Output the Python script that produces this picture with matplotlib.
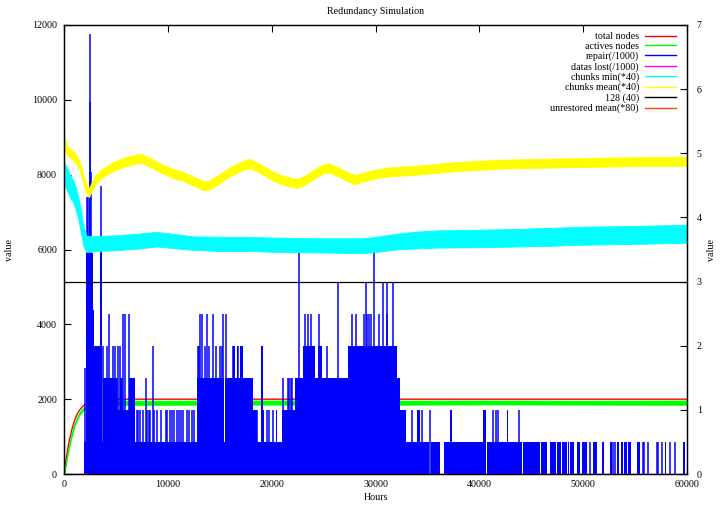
import matplotlib
matplotlib.use("Agg")
import matplotlib.pyplot as plt
from matplotlib.lines import Line2D

plt.rcParams['font.family'] = ['Liberation Serif', 'DejaVu Serif']
plt.rcParams['font.size'] = 7.2

# ---- data (hours on x, "value" on the left axis) ----
TOTAL_H = [0, 250, 500, 750, 1000, 1250, 1500, 1750, 2000, 3000, 4000, 60000]
TOTAL_V = [0, 480, 880, 1180, 1420, 1590, 1710, 1790, 1850, 1960, 2000, 2000]

ACTIVE_H = [0, 250, 500, 750, 1000, 1250, 1500, 1750, 2000, 4000, 10000,
            20000, 30000, 40000, 50000, 60000]
ACTIVE_LO = [0, 350, 720, 1020, 1270, 1450, 1580, 1670, 1740, 1850, 1850,
             1855, 1850, 1860, 1855, 1850]
ACTIVE_HI = [0, 420, 800, 1100, 1340, 1520, 1650, 1740, 1800, 1960, 1960,
             1965, 1960, 1965, 1960, 1965]

# repair(/1000): wide solid blocks (start, end, top)
REPAIR_BLOCKS = [
    (1930, 2150, 853), (2150, 2750, 5900), (2750, 2900, 4370),
    (2900, 3450, 3413), (3450, 3650, 5900), (3650, 4750, 2560),
    (4750, 6840, 1707), (4750, 5100, 2560), (5350, 5600, 2560),
    (6260, 6840, 2560), (6840, 12780, 853),
    (12780, 18240, 2560), (12780, 18560, 1707), (16250, 16470, 3413),
    (16630, 16790, 3413), (16950, 17210, 3413), (18980, 19140, 3413),
    (18560, 21450, 853), (19140, 19300, 1707), (20390, 20550, 1707),
    (21030, 21450, 1707), (21450, 22250, 1707), (22250, 32360, 2560),
    (23050, 24180, 3413), (24430, 24820, 3413), (27390, 32040, 3413),
    (32360, 32520, 1707), (32520, 32940, 1707), (33965, 34290, 1707),
    (37180, 37340, 1707), (40320, 40640, 1707), (42630, 42790, 1707),
    (32520, 49100, 853), (49380, 49700, 853), (49890, 50340, 853),
    (50980, 51360, 853), (51790, 52010, 853), (52590, 52750, 853),
    (53230, 53420, 853), (53620, 53810, 853), (53930, 54190, 853),
    (54350, 54580, 853), (55160, 55470, 853), (57880, 57980, 853),
    (59650, 59810, 853),
]
# white holes inside the solid blocks (start, end, low, high)
REPAIR_GAPS = [
    (3700, 3760, 853, 3413), (15420, 15480, 853, 2560),
    (35180, 35310, 0, 853), (36210, 36600, 0, 853), (37630, 37700, 0, 853),
    (40640, 40700, 0, 853), (44150, 44210, 0, 853), (45820, 45900, 0, 853),
    (46480, 46800, 0, 853), (47170, 47230, 0, 853), (47430, 47500, 0, 853),
    (47880, 47940, 0, 853), (48410, 48570, 0, 853), (48680, 48740, 0, 853),
]
# thin spikes (hour, top)
REPAIR_SPIKES = [
    (2020, 2820), (2250, 7410), (2350, 7410), (2470, 11760), (2520, 9950),
    (2580, 8080), (3550, 7700),
    (3790, 3413), (4110, 3413), (4300, 4267), (4750, 3413), (4910, 3413),
    (5070, 2560), (5230, 3413), (5390, 3413), (5550, 2560), (5710, 4267),
    (5870, 4267), (6260, 4267), (6450, 2560), (6680, 2560),
    (7000, 1707), (7160, 1707), (7320, 1707), (7580, 1707), (7900, 2560),
    (8030, 1707), (8190, 1707), (8280, 1707), (8540, 3413), (8670, 1707),
    (8930, 1707), (9300, 1707), (9820, 1707), (9950, 1707), (10210, 1707),
    (10370, 1707), (10620, 1707), (10910, 1707), (11110, 1707),
    (11300, 1707), (11490, 1707), (11880, 1707), (12070, 1707),
    (12360, 1707), (12550, 1707),
    (12870, 3413), (13030, 3413), (13100, 4267), (13260, 4267),
    (13580, 3413), (13740, 4267), (14000, 3413), (14320, 4267),
    (14640, 3413), (15020, 3413), (15180, 3413), (15340, 4267),
    (15600, 4267), (16310, 3413), (16800, 3413),
    (18590, 1707), (19550, 1707), (19790, 1707), (20110, 1707),
    (21060, 2560), (21610, 2560), (21700, 2560), (21860, 2560),
    (21960, 2560), (22630, 5950),
    (23210, 4267), (23500, 4267), (23790, 4267), (24590, 4267),
    (25300, 3413), (26420, 5120), (27710, 4267), (28120, 4267),
    (28890, 4267), (29090, 5120), (29150, 4267), (29350, 4267),
    (29540, 4267), (29860, 5970), (30340, 4267), (30760, 5120),
    (31080, 5120), (31110, 4267), (31660, 5120),
    (33480, 1707), (34510, 1707), (35250, 1707), (41350, 1707),
    (41570, 1707), (41830, 1707), (43850, 1707),
    (50660, 853), (52900, 853), (53040, 853), (55790, 853), (55860, 853),
    (56280, 853), (57080, 853), (57180, 853), (57560, 853), (58360, 853),
    (58850, 853),
]

DATALOST_H = [0, 60000]
DATALOST_V = [0, 0]

CHMIN_H = [0, 256, 600, 900, 1150, 1380, 1600, 1860, 2180, 3000, 5000, 7000,
           8920, 10500, 12450, 15000, 17600, 20000, 22420, 25000, 28830,
           30500, 32040, 34000, 35900, 40000, 43600, 47000, 50030, 55000,
           60000]
CHMIN_LO = [7750, 7600, 7380, 7250, 7050, 6800, 6500, 6100, 5930, 5960,
            5980, 6020, 6080, 6040, 5990, 5960, 5960, 5940, 5930, 5920, 5900,
            5950, 6000, 6030, 6050, 6060, 6080, 6100, 6130, 6150, 6180]
CHMIN_HI = [8350, 8200, 7980, 7850, 7650, 7400, 7100, 6620, 6360, 6360,
            6380, 6420, 6470, 6420, 6350, 6340, 6340, 6320, 6310, 6300, 6300,
            6360, 6420, 6480, 6510, 6530, 6550, 6580, 6610, 6630, 6660]

CHMEAN_H = [0, 300, 1000, 1500, 1800, 2100, 2400, 2700, 3000, 3500, 4000,
            5000, 6000, 7000, 7500, 8500, 9500, 10500, 11500, 12500, 13500,
            14000, 15000, 16000, 17000, 17900, 19000, 20000, 21000, 22400,
            23200, 24000, 25000, 25600, 26500, 27500, 28000, 29000, 30000,
            31500, 34000, 37500, 42000, 47000, 53000, 60000]
CHMEAN_LO = [8650, 8520, 8360, 8130, 7830, 7530, 7400, 7580, 7730, 7880,
             7980, 8130, 8230, 8300, 8310, 8180, 8030, 7910, 7830, 7700, 7580,
             7600, 7780, 7960, 8100, 8180, 8030, 7860, 7740, 7640, 7730, 7880,
             8040, 8060, 7940, 7800, 7750, 7830, 7900, 7960, 8000, 8090, 8160,
             8190, 8220, 8240]
CHMEAN_HI = [9050, 8760, 8600, 8370, 8070, 7770, 7640, 7820, 7970, 8120,
             8220, 8370, 8470, 8540, 8550, 8420, 8270, 8150, 8070, 7940, 7820,
             7840, 8020, 8200, 8340, 8420, 8270, 8100, 7980, 7880, 7970, 8120,
             8280, 8300, 8180, 8040, 7990, 8070, 8140, 8200, 8240, 8330, 8400,
             8430, 8460, 8480]

LINE128_H = [0, 60000]
LINE128_V = [5120, 5120]

UNREST_H = [0, 20, 40]
UNREST_V = [10250, 9500, 8800]

LABELS = ["total nodes", "actives nodes", "repair(/1000)", "datas lost(/1000)",
          "chunks min(*40)", "chunks mean(*40)", "128 (40)",
          "unrestored mean(*80)"]
COLORS = ["#ff0000", "#00ff00", "#0000ff", "#ff00ff", "#00ffff", "#ffff00",
          "#000000", "#ff4500"]

fig = plt.figure(figsize=(7.22, 5.05), dpi=100)
ax = fig.add_axes([64 / 722, 31 / 505, 623 / 722, 449 / 505])

ax.plot(TOTAL_H, TOTAL_V, color=COLORS[0], lw=1.0, zorder=2)
ax.fill_between(ACTIVE_H, ACTIVE_LO, ACTIVE_HI, color=COLORS[1], lw=0.6,
                edgecolor=COLORS[1], zorder=2.1)

for s, e, top in REPAIR_BLOCKS:
    ax.bar(s, top, width=e - s, align="edge", color=COLORS[2], lw=0,
           zorder=2.2)
for s, e, lo, hi in REPAIR_GAPS:
    ax.bar(s, hi - lo, width=e - s, bottom=lo, align="edge", color="white",
           lw=0, zorder=2.25)
ax.vlines([h for h, _ in REPAIR_SPIKES], 0, [v for _, v in REPAIR_SPIKES],
          color=COLORS[2], lw=1.1, zorder=2.3)

ax.plot(DATALOST_H, DATALOST_V, color=COLORS[3], lw=1.0, zorder=2.35)
ax.fill_between(CHMIN_H, CHMIN_LO, CHMIN_HI, color=COLORS[4], lw=0.6,
                edgecolor=COLORS[4], zorder=2.4)
ax.fill_between(CHMEAN_H, CHMEAN_LO, CHMEAN_HI, color=COLORS[5], lw=0.6,
                edgecolor=COLORS[5], zorder=2.5)
ax.plot(LINE128_H, LINE128_V, color=COLORS[6], lw=0.9, zorder=2.6)
ax.plot(UNREST_H, UNREST_V, color=COLORS[7], lw=1.0, zorder=2.7)

ax.set_xlim(0, 60000)
ax.set_ylim(0, 12000)
ax.set_xticks(range(0, 60001, 10000))
ax.set_yticks(range(0, 12001, 2000))
ax.tick_params(direction="in", length=5, width=0.8, top=True, right=False,
               labelsize=7.2, color="black")
ax.tick_params(axis="y", pad=5)
ax.tick_params(axis="x", pad=4)
for sp in ax.spines.values():
    sp.set_linewidth(0.9)
    sp.set_zorder(3)

ax2 = ax.twinx()
ax2.set_ylim(0, 7)
ax2.set_yticks(range(0, 8))
ax2.tick_params(direction="in", length=5, width=0.8, labelsize=7.2, pad=7)
for sp in ax2.spines.values():
    sp.set_linewidth(0.9)

handles = [Line2D([], [], color=c, lw=1.0) for c in COLORS]
ax2.legend(handles, LABELS, loc="upper right",
           bbox_to_anchor=(676 / 722, 1 - 32 / 505),
           bbox_transform=fig.transFigure, frameon=False, markerfirst=False,
           handlelength=3.1, handletextpad=0.6, labelspacing=0.08,
           borderpad=0, borderaxespad=0, fontsize=7.2)

fig.text(375.5 / 722, 1 - 11 / 505, "Redundancy Simulation", ha="center",
         va="center", fontsize=7.2)
fig.text(375.5 / 722, 1 - 497 / 505, "Hours", ha="center", va="center",
         fontsize=7.2)
fig.text(10 / 722, 1 - 250 / 505, "value", ha="center", va="center",
         rotation=90, fontsize=7.2)
fig.text(712 / 722, 1 - 250 / 505, "value", ha="center", va="center",
         rotation=90, fontsize=7.2)

fig.savefig("out.png", dpi=100)
